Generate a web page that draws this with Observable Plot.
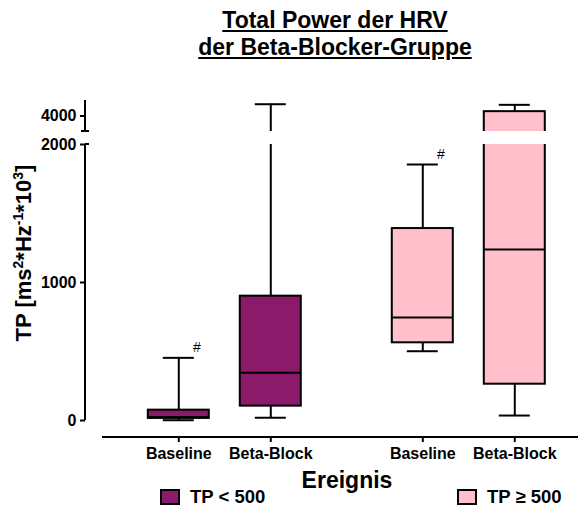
<!DOCTYPE html>
<html>
<head>
<meta charset="utf-8">
<script src="https://cdn.jsdelivr.net/npm/d3@7"></script>
<script src="https://cdn.jsdelivr.net/npm/@observablehq/plot@0.6"></script>
<style>
  body { margin: 0; background: #fff; font-family: "Liberation Sans", Arial, sans-serif; color: #000; }
  #wrap { position: relative; width: 581px; height: 508px; overflow: hidden; background: #fff; }
  #title { position: absolute; left: 90px; width: 490px; top: 7px; text-align: center; font-weight: bold; font-size: 23px; line-height: 27px; text-decoration: underline; }
  #chart { position: absolute; left: 0; top: 70px; z-index: 1; }
  #ylabel { position: absolute; z-index: 2; width: 260px; height: 26px; left: -106px; top: 240px; line-height: 26px; text-align: center; font-weight: bold; font-size: 22px; transform: rotate(-90deg); transform-origin: 50% 50%; white-space: nowrap; }
  #ylabel sup { font-size: 14px; line-height: 0; }
  #xlabel { position: absolute; z-index: 2; left: 247px; width: 200px; top: 469px; text-align: center; font-weight: bold; font-size: 23px; line-height: 23px; }
  .leg { position: absolute; z-index: 2; top: 489px; height: 16px; display: flex; align-items: center; font-weight: bold; font-size: 18.5px; line-height: 16px; white-space: nowrap; }
  .sw { width: 20px; height: 16px; border: 2px solid #000; box-sizing: border-box; margin-right: 10px; }
</style>
</head>
<body>
<div id="wrap">
  <div id="title">Total Power der HRV<br>der Beta-Blocker-Gruppe</div>
  <div id="chart"></div>
  <div id="ylabel">TP [ms<sup>2</sup>*Hz<sup>-1</sup>*10<sup>3</sup>]</div>
  <div id="xlabel">Ereignis</div>
  <div id="legend"></div>
</div>
<script>
// ---- data ----
const groups = ["TP < 500", "TP \u2265 500"];
const events = ["Baseline", "Beta-Block"];
const groupColors = ["#8b1a6b", "#ffc0cb"];

const boxGroup = ["TP < 500", "TP < 500", "TP \u2265 500", "TP \u2265 500"];
const boxEvent = ["Baseline", "Beta-Block", "Baseline", "Beta-Block"];
const whiskerLow = [2, 20, 502, 36];
const q1 = [15, 104, 563, 263];
const median = [25, 346, 746, 1239];
const q3 = [75, 901, 1391, 4070];
const whiskerHigh = [454, 4190, 1855, 4180];
const sigMark = ["#", "", "#", ""];

const yTicks = [0, 1000, 2000, 4000];
const yBreak = [2000, 3750];   // axis is interrupted between these values
const yTop = 4250;

// ---- table built from the arrays ----
const boxes = boxGroup.map((g, i) => ({
  group: g, event: boxEvent[i], lo: whiskerLow[i], q1: q1[i],
  med: median[i], q3: q3[i], hi: whiskerHigh[i], sig: sigMark[i]
}));
const gap = [{y1: yBreak[0], y2: yBreak[1]}];

const W = 581, H = 420;
const chart = Plot.plot({
  width: W,
  height: H,
  marginLeft: 85,
  marginRight: 8,
  marginTop: 30,
  marginBottom: 53,
  style: {fontFamily: "'Liberation Sans', Arial, sans-serif", background: "#fff", color: "#000"},
  fx: {domain: groups, padding: 0, round: false, axis: null},
  x: {domain: events, paddingInner: 0.337, paddingOuter: 0.4946, align: 0.69, round: false},
  y: {type: "linear", domain: [0, yBreak[0], yBreak[1], yTop], range: [350, 74, 61, 30]},
  color: {domain: groups, range: groupColors},
  marks: [
    Plot.ruleX(boxes, {fx: "group", x: "event", y1: "lo", y2: "q1", stroke: "#000", strokeWidth: 2}),
    Plot.ruleX(boxes, {fx: "group", x: "event", y1: "q3", y2: "hi", stroke: "#000", strokeWidth: 2}),
    Plot.tickY(boxes, {fx: "group", x: "event", y: "lo", stroke: "#000", strokeWidth: 2, insetLeft: 15, insetRight: 15}),
    Plot.tickY(boxes, {fx: "group", x: "event", y: "hi", stroke: "#000", strokeWidth: 2, insetLeft: 15, insetRight: 15}),
    Plot.barY(boxes, {fx: "group", x: "event", y1: "q1", y2: "q3", fill: "group", stroke: "#000", strokeWidth: 2}),
    Plot.tickY(boxes, {fx: "group", x: "event", y: "med", stroke: "#000", strokeWidth: 2}),
    Plot.barY(gap, {y1: "y1", y2: "y2", fill: "#fff"}),
    Plot.text(boxes.filter(d => d.sig), {fx: "group", x: "event", y: "hi", text: "sig", dx: 18, dy: -10, fontSize: 14}),
    Plot.axisX({tickSize: 5, tickPadding: 5, fontSize: 16, fontWeight: "bold", label: null, strokeWidth: 2}),
    Plot.axisY(yTicks, {tickSize: 5, tickPadding: 4, fontSize: 16, fontWeight: "bold", label: null, strokeWidth: 2, tickFormat: d3.format("d")})
  ]
});

// axis lines with the break, positioned through the plot's own scales
const ys = chart.scale("y");
const fxs = chart.scale("fx");
const x0 = fxs.apply(groups[0]);
const svg = d3.select(chart);
const g = svg.append("g").attr("stroke", "#000").attr("stroke-width", 2).attr("fill", "none");
const seg = (xa, ya, xb, yb) => g.append("line").attr("x1", xa).attr("y1", ya).attr("x2", xb).attr("y2", yb);
seg(x0, ys.apply(0), x0, ys.apply(yBreak[0]));
seg(x0, ys.apply(yBreak[1]), x0, ys.apply(yTop));
seg(x0 - 4, ys.apply(yBreak[1]), x0 + 4, ys.apply(yBreak[1]));
seg(x0, ys.apply(yBreak[0]), x0 + 4, ys.apply(yBreak[0]));
const xAxisY = H - 53;
seg(x0 + 17, xAxisY, W - 3, xAxisY);

document.getElementById("chart").appendChild(chart);

// legend
const legend = document.getElementById("legend");
const legLeft = [160, 457];
groups.forEach((gname, i) => {
  const item = document.createElement("div");
  item.className = "leg";
  item.style.left = legLeft[i] + "px";
  const sw = document.createElement("div");
  sw.className = "sw";
  sw.style.background = groupColors[i];
  const t = document.createElement("span");
  t.textContent = gname;
  item.appendChild(sw);
  item.appendChild(t);
  legend.appendChild(item);
});
</script>
</body>
</html>
